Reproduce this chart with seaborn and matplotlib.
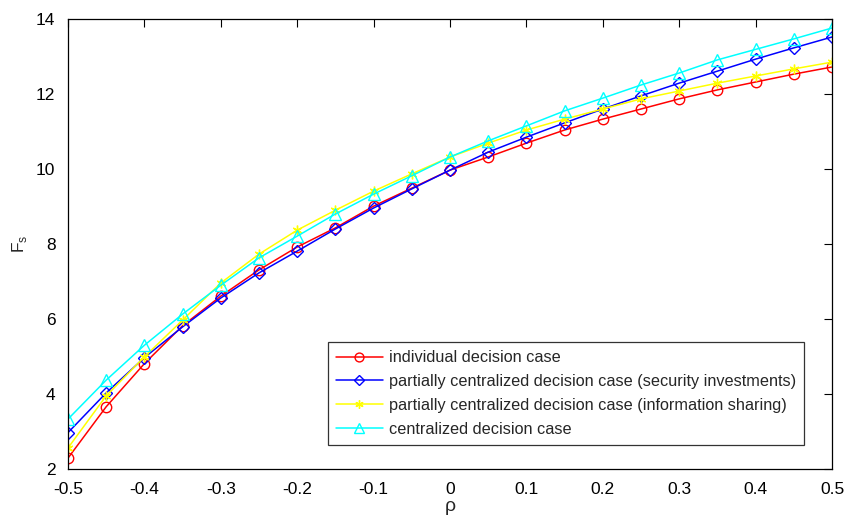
import numpy as np
import pandas as pd
import seaborn as sns
import matplotlib.pyplot as plt

# rho values on x axis
rho = [-0.5, -0.45, -0.4, -0.35, -0.3, -0.25, -0.2, -0.15, -0.1, -0.05, 0.0,
       0.05, 0.1, 0.15, 0.2, 0.25, 0.3, 0.35, 0.4, 0.45, 0.5]

# F_s values
individual = [2.29, 3.66, 4.81, 5.82, 6.61, 7.31, 7.92, 8.43, 9.01, 9.49, 9.97,
              10.32, 10.69, 11.04, 11.33, 11.60, 11.87, 12.11, 12.32, 12.53, 12.72]
partial_security = [2.97, 4.03, 4.97, 5.79, 6.56, 7.23, 7.81, 8.40, 8.96, 9.47, 9.97,
                    10.45, 10.85, 11.23, 11.60, 11.95, 12.29, 12.61, 12.93, 13.23, 13.52]
partial_sharing = [2.56, 3.95, 4.99, 5.97, 6.96, 7.73, 8.37, 8.90, 9.41, 9.87, 10.32,
                   10.69, 11.04, 11.33, 11.60, 11.87, 12.08, 12.29, 12.48, 12.67, 12.85]
centralized = [3.33, 4.37, 5.30, 6.13, 6.90, 7.63, 8.21, 8.80, 9.33, 9.82, 10.32,
               10.75, 11.15, 11.55, 11.89, 12.24, 12.56, 12.91, 13.19, 13.47, 13.76]

labels = ['individual decision case',
          'partially centralized decision case (security investments)',
          'partially centralized decision case (information sharing)',
          'centralized decision case']

df = pd.DataFrame({'rho': rho * 4,
                   'Fs': individual + partial_security + partial_sharing + centralized,
                   'case': sum([[l] * len(rho) for l in labels], [])})

sns.set_style('white')
plt.rcParams['font.family'] = ['Liberation Sans', 'DejaVu Sans']

fig = plt.figure(figsize=(8.56, 5.15), dpi=100)
ax = fig.add_axes([0.0794, 0.0893, 0.8926, 0.8738])

colors = ['#ff0000', '#0000ff', '#ffff00', '#00ffff']
markers = ['o', 'D', (6, 2, 0), '^']
sizes = [7.5, 6, 7, 8]
for lab, c, m, s in zip(labels, colors, markers, sizes):
    sub = df[df['case'] == lab]
    sns.lineplot(data=sub, x='rho', y='Fs', ax=ax, color=c, marker=m,
                 markersize=s, markerfacecolor='none', markeredgecolor=c,
                 markeredgewidth=1.0, linewidth=1.1, label=lab)

ax.set_xlim(-0.5, 0.5)
ax.set_ylim(2, 14)
ax.set_xticks(np.arange(-0.5, 0.51, 0.1))
ax.set_xticklabels(['-0.5', '-0.4', '-0.3', '-0.2', '-0.1', '0',
                    '0.1', '0.2', '0.3', '0.4', '0.5'])
ax.set_yticks([2, 4, 6, 8, 10, 12, 14])
ax.tick_params(direction='in', length=6, width=0.8, labelsize=12.5,
               top=True, right=True, colors='black')
ax.tick_params(axis='x', pad=9)
ax.tick_params(axis='y', pad=9)
for sp in ax.spines.values():
    sp.set_color('black')
    sp.set_linewidth(0.9)

ax.set_xlabel('ρ', fontsize=14, labelpad=1)
ax.set_ylabel('F$_\\mathregular{s}$', fontsize=12.5, labelpad=5)

leg = ax.legend(loc='lower right', bbox_to_anchor=(0.963, 0.053), fontsize=11.7,
                frameon=True, fancybox=False, edgecolor='black',
                handlelength=2.9, borderpad=0.5, labelspacing=0.55,
                handletextpad=0.35, borderaxespad=0, markerscale=0.85)
leg.get_frame().set_linewidth(0.9)

fig.savefig('out.png', dpi=100)
